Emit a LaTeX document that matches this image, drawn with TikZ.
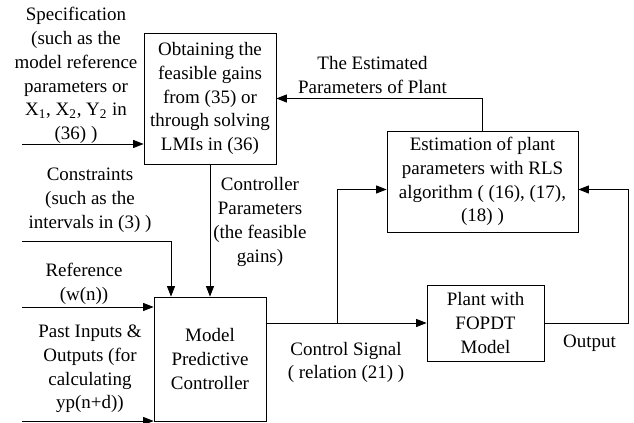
\documentclass[tikz,border=0pt]{standalone}
\usepackage{fontspec}
\setmainfont{Liberation Serif}
\usetikzlibrary{arrows.meta}

\begin{document}
\begin{tikzpicture}[every node/.style={font=\fontsize{13.5}{16.9}\selectfont, align=center},
    block/.style={draw, line width=0.6pt, inner sep=0pt},
    sig/.style={-{Triangle[length=2.6mm,width=2mm]}, line width=0.6pt}]
        \useasboundingbox (0,0) rectangle (15.85,10.575);

        % Blocks
        \node[block, minimum width=3.3cm, minimum height=3.275cm] (obtain) at (5.25,8.1125) {Obtaining the\\feasible gains\\from (35) or\\through solving\\LMIs in (36)};
        \node[block, minimum width=4.775cm, minimum height=2.525cm] (estim) at (12.0625,6.0375) {Estimation of plant\\parameters with RLS\\algorithm ( (16), (17),\\(18) )};
        \node[block, minimum width=2.8cm, minimum height=3.1cm] (mpc) at (5.25,1.6) {Model\\Predictive\\Controller};
        \node[block, minimum width=2.925cm, minimum height=1.9cm] (plant) at (12.1375,2.5) {Plant with\\FOPDT\\Model};

        % Labels
        \node (speclbl) at (1.9,8.6875) {Specification\\(such as the\\model reference\\parameters or\\X\textsubscript{1}, X\textsubscript{2}, Y\textsubscript{2} in\\(36) )};
        \node (estlbl) at (9.3125,8.7) {The Estimated\\Parameters of Plant};
        \node (conslbl) at (2.25,5.575) {Constraints\\(such as the\\intervals in (3) )};
        \node (parlbl) at (6.5,5.025) {Controller\\Parameters\\(the feasible\\gains)};
        \node (reflbl) at (2.1,3.475) {Reference\\(w(n))};
        \node (pastlbl) at (2.25,1.35) {Past Inputs \&\\Outputs (for\\calculating\\yp(n+d))};
        \node (ctrllbl) at (8.65,1.5125) {Control Signal\\( relation (21) )};
        \node (outlbl) at (14.7375,2.0) {Output};

        % Free ends of the inputs and the branch points
        \coordinate (specin) at (0.55,6.975);
        \coordinate (consin) at (0.55,4.55);
        \coordinate (refin) at (0.55,2.9);
        \coordinate (pastin) at (0.55,0.05);
        \coordinate (branch) at (8.425,2.5);
        \coordinate (outturn) at (15.7,2.5);

        \draw[sig] (specin) -- (specin -| obtain.west);
        \draw[sig] (estim.north) |- (obtain.east);
        \draw[sig] (obtain.south) -- (mpc.north);
        \draw[sig] (consin) -| ([xshift=-0.975cm]mpc.north);
        \draw[sig] (refin) -- (refin -| mpc.west);
        \draw[sig] (pastin) -- (pastin -| mpc.west);
        \draw[sig] (plant.west -| mpc.east) -- (plant.west);
        \draw[sig] (branch) |- ([yshift=-0.2cm]estim.west);
        \draw[sig] (plant.east) -- (outturn) |- ([yshift=-0.2cm]estim.east);
    \end{tikzpicture}
\end{document}
